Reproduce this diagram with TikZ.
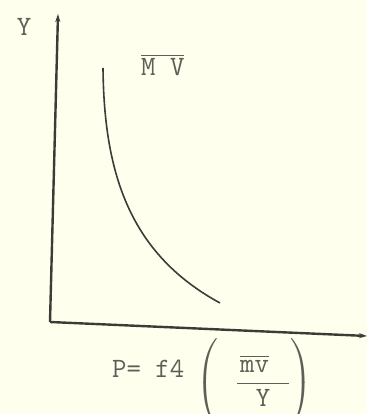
\documentclass[tikz,border=0pt]{standalone}
\usepackage{amsmath}
\usetikzlibrary{arrows.meta}
\definecolor{PaperCream}{RGB}{255,255,238}
\definecolor{InkGray}{RGB}{60,60,55}
\definecolor{TextGray}{RGB}{95,95,88}
\tikzset{
  axis/.style={-{Stealth[length=8pt,width=5pt]},line width=2.4pt,InkGray},
  curveline/.style={line width=1.6pt,InkGray},
  lbl/.style={TextGray,font=\fontsize{28}{32}\selectfont\ttfamily,inner sep=0pt}
}
\begin{document}
\begin{tikzpicture}[x=1pt,y=1pt]
  \fill[PaperCream] (0,0) rectangle (367,414);
  \useasboundingbox (0,0) rectangle (367,414);
  % axes
  \coordinate (O) at (50,92);
  \coordinate (ytop) at (58,400);
  \coordinate (xend) at (367,78);
  \draw[axis] (O) -- (ytop);
  \draw[axis] (O) -- (xend);
  % curve
  \coordinate (c1) at (103,346);
  \coordinate (c2) at (220,111);
  \draw[curveline] (c1) .. controls (104,240) and (130,160) .. (c2);
  % labels
  \node[lbl] (ylab) at (24,387) {Y};
  \node[lbl,anchor=base west] (mv) at (141,338) {$\overline{\text{M V}}$};
  \node[lbl,anchor=base west] (eq) at (112,36) {P= f4};
  \node[lbl,anchor=west] (frac) at (196,31)
    {$\left(\rule[-34pt]{0pt}{78pt}\hspace{18pt}\dfrac{\hspace{3pt}\overline{\text{mv}}\hspace{20pt}}{\text{Y}}\right)$};
\end{tikzpicture}
\end{document}
